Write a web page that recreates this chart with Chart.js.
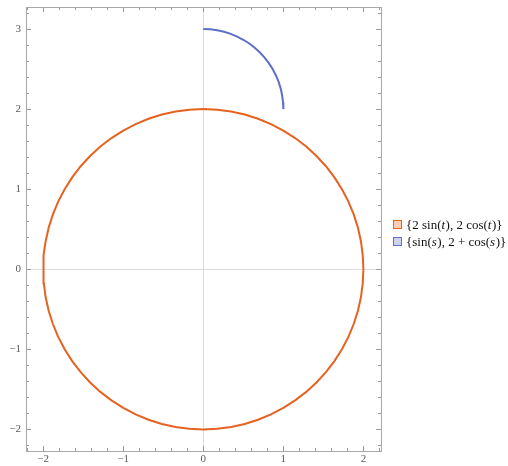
<!DOCTYPE html>
<html>
<head>
<meta charset="utf-8">
<script src="https://cdn.jsdelivr.net/npm/chart.js@4/dist/chart.umd.min.js"></script>
<style>
  html, body { margin: 0; padding: 0; background: #fff; }
  #wrap { width: 508px; height: 466px; }
</style>
</head>
<body>
<div id="wrap"><canvas id="myChart" width="508" height="466"></canvas></div>
<script>
// {2 sin(t), 2 cos(t)} sampled every 5 degrees
const circleX = [0, 0.174, 0.347, 0.518, 0.684, 0.845, 1, 1.147, 1.286, 1.414, 1.532, 1.638, 1.732, 1.813, 1.879, 1.932, 1.970, 1.992, 2,
    1.992, 1.970, 1.932, 1.879, 1.813, 1.732, 1.638, 1.532, 1.414, 1.286, 1.147, 1, 0.845, 0.684, 0.518, 0.347, 0.174, 0,
    -0.174, -0.347, -0.518, -0.684, -0.845, -1, -1.147, -1.286, -1.414, -1.532, -1.638, -1.732, -1.813, -1.879, -1.932, -1.970, -1.992, -2,
    -1.992, -1.970, -1.932, -1.879, -1.813, -1.732, -1.638, -1.532, -1.414, -1.286, -1.147, -1, -0.845, -0.684, -0.518, -0.347, -0.174, 0]
const circleY = [2, 1.992, 1.970, 1.932, 1.879, 1.813, 1.732, 1.638, 1.532, 1.414, 1.286, 1.147, 1, 0.845, 0.684, 0.518, 0.347, 0.174, 0,
    -0.174, -0.347, -0.518, -0.684, -0.845, -1, -1.147, -1.286, -1.414, -1.532, -1.638, -1.732, -1.813, -1.879, -1.932, -1.970, -1.992, -2,
    -1.992, -1.970, -1.932, -1.879, -1.813, -1.732, -1.638, -1.532, -1.414, -1.286, -1.147, -1, -0.845, -0.684, -0.518, -0.347, -0.174, 0,
    0.174, 0.347, 0.518, 0.684, 0.845, 1, 1.147, 1.286, 1.414, 1.532, 1.638, 1.732, 1.813, 1.879, 1.932, 1.970, 1.992, 2]

// {sin(s), 2 + cos(s)} for s in 0..pi/2
const arcX = [0, 0.087, 0.174, 0.259, 0.342, 0.423, 0.5, 0.574, 0.643, 0.707,
    0.766, 0.819, 0.866, 0.906, 0.940, 0.966, 0.985, 0.996, 1]
const arcY = [3, 2.996, 2.985, 2.966, 2.940, 2.906, 2.866, 2.819, 2.766, 2.707,
    2.643, 2.574, 2.5, 2.423, 2.342, 2.259, 2.174, 2.087, 2]

const seriesLabels = ["{2 sin(t), 2 cos(t)}", "{sin(s), 2 + cos(s)}"]
const seriesColors = ["#e5621f", "#5d6ecb"]
const seriesFills = ["#f9cfb3", "#ced3f0"]

const xTicks = [-2, -1, 0, 1, 2]
const yTicks = [-2, -1, 0, 1, 2, 3]

function toPoints(xs, ys) {
    let pts = []
    for (let i = 0; i < xs.length; i++) {
        pts.push({ x: xs[i], y: ys[i] })
    }
    return pts
}

function fmt(v) {
    if (v < 0) return "\u2212" + Math.abs(v)
    return "" + v
}

const axisColor = "#9a9a9a"

// frame + inward ticks on all four sides
const frameTicks = {
    id: "frameTicks",
    afterDraw(chart) {
        const ctx = chart.ctx
        const a = chart.chartArea
        const xs = chart.scales.x
        const ys = chart.scales.y
        ctx.save()
        ctx.strokeStyle = axisColor
        ctx.lineWidth = 1
        for (let i = -11; i <= 11; i++) {
            const v = i / 5
            const px = Math.round(xs.getPixelForValue(v)) + 0.5
            if (px < a.left || px > a.right) continue
            const len = (i % 5 === 0) ? 5 : 3
            ctx.beginPath()
            ctx.moveTo(px, a.bottom); ctx.lineTo(px, a.bottom - len)
            ctx.moveTo(px, a.top); ctx.lineTo(px, a.top + len)
            ctx.stroke()
        }
        for (let i = -12; i <= 17; i++) {
            const v = i / 5
            const py = Math.round(ys.getPixelForValue(v)) + 0.5
            if (py < a.top || py > a.bottom) continue
            const len = (i % 5 === 0) ? 5 : 3
            ctx.beginPath()
            ctx.moveTo(a.left, py); ctx.lineTo(a.left + len, py)
            ctx.moveTo(a.right, py); ctx.lineTo(a.right - len, py)
            ctx.stroke()
        }
        ctx.strokeStyle = "#a8a8a8"
        ctx.strokeRect(Math.round(a.left) + 0.5, Math.round(a.top) + 0.5,
            Math.round(a.right - a.left), Math.round(a.bottom - a.top))
        ctx.restore()
    }
}

// legend with italic parameter names
const mmaLegend = {
    id: "mmaLegend",
    afterDraw(chart) {
        const ctx = chart.ctx
        ctx.save()
        ctx.textBaseline = "middle"
        for (let i = 0; i < seriesLabels.length; i++) {
            const cy = 224.5 + i * 17
            ctx.fillStyle = seriesFills[i]
            ctx.fillRect(393.5, cy - 4, 8, 8)
            ctx.strokeStyle = seriesColors[i]
            ctx.lineWidth = 1
            ctx.strokeRect(393.5, cy - 4, 8, 8)
            let x = 406
            const parts = seriesLabels[i].split(/(\([a-z]\))/)
            ctx.fillStyle = "#111"
            parts.forEach(p => {
                if (/^\([a-z]\)$/.test(p)) {
                    ctx.font = "13px 'Liberation Serif'"
                    ctx.fillText("(", x, cy + 1); x += ctx.measureText("(").width
                    ctx.font = "italic 13px 'Liberation Serif'"
                    ctx.fillText(p[1], x, cy + 1); x += ctx.measureText(p[1]).width + 0.5
                    ctx.font = "13px 'Liberation Serif'"
                    ctx.fillText(")", x, cy + 1); x += ctx.measureText(")").width
                } else {
                    ctx.font = "13px 'Liberation Serif'"
                    ctx.fillText(p, x, cy + 1); x += ctx.measureText(p).width
                }
            })
        }
        ctx.restore()
    }
}

const ctx = document.getElementById("myChart").getContext("2d")
const myChart = new Chart(ctx, {
    type: "scatter",
    data: {
        datasets: [{
            label: seriesLabels[0],
            data: toPoints(circleX, circleY),
            showLine: true,
            borderColor: seriesColors[0],
            borderWidth: 2,
            pointRadius: 0,
            tension: 0
        }, {
            label: seriesLabels[1],
            data: toPoints(arcX, arcY),
            showLine: true,
            borderColor: seriesColors[1],
            borderWidth: 2,
            pointRadius: 0,
            tension: 0
        }]
    },
    options: {
        responsive: false,
        animation: false,
        layout: { padding: { top: 7, right: 127, left: 0, bottom: 0 } },
        plugins: {
            legend: { display: false },
            tooltip: { enabled: false }
        },
        scales: {
            x: {
                type: "linear",
                min: -2.215,
                max: 2.22,
                afterFit(scale) {
                    scale.height = 15
                    scale.paddingLeft = 0
                    scale.paddingRight = 0
                },
                afterBuildTicks(scale) { scale.ticks = xTicks.map(v => ({ value: v })) },
                border: { display: false },
                grid: {
                    drawTicks: false,
                    color: c => (c.tick && c.tick.value === 0) ? "#dcdcdc" : "rgba(0,0,0,0)"
                },
                ticks: {
                    padding: 2,
                    maxRotation: 0,
                    color: "#5a5a5a",
                    font: { family: "'Liberation Serif'", size: 11 },
                    callback: v => fmt(v)
                }
            },
            y: {
                type: "linear",
                min: -2.27,
                max: 3.275,
                afterFit(scale) {
                    scale.width = 26
                    scale.paddingTop = 0
                    scale.paddingBottom = 0
                },
                afterBuildTicks(scale) { scale.ticks = yTicks.map(v => ({ value: v })) },
                border: { display: false },
                grid: {
                    drawTicks: false,
                    color: c => (c.tick && c.tick.value === 0) ? "#dcdcdc" : "rgba(0,0,0,0)"
                },
                ticks: {
                    padding: 5,
                    color: "#5a5a5a",
                    font: { family: "'Liberation Serif'", size: 11 },
                    callback: v => fmt(v)
                }
            }
        }
    },
    plugins: [frameTicks, mmaLegend]
})
</script>
</body>
</html>
